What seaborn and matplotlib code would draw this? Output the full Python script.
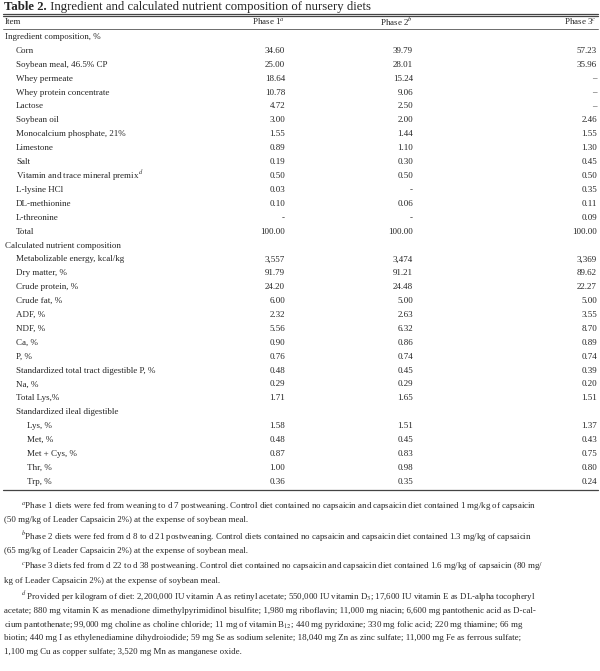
import matplotlib
matplotlib.use("Agg")
import matplotlib.pyplot as plt
import seaborn as sns

sns.set_theme(style="white")
plt.rcParams["font.family"] = "Liberation Serif"
plt.rcParams["mathtext.fontset"] = "stix"

title_bold = "Table 2."
title_rest = " Ingredient and calculated nutrient composition of nursery diets"
headers = ["Phase 1", "Phase 2", "Phase 3"]
header_sup = ["a", "b", "c"]

items = ["Ingredient composition, %", "Corn", "Soybean meal, 46.5% CP", "Whey permeate",
         "Whey protein concentrate", "Lactose", "Soybean oil", "Monocalcium phosphate, 21%",
         "Limestone", "Salt", "Vitamin and trace mineral premix", "L-lysine HCl", "DL-methionine",
         "L-threonine", "Total", "Calculated nutrient composition", "Metabolizable energy, kcal/kg",
         "Dry matter, %", "Crude protein, %", "Crude fat, %", "ADF, %", "NDF, %", "Ca, %", "P, %",
         "Standardized total tract digestible P, %", "Na, %", "Total Lys,%",
         "Standardized ileal digestible", "Lys, %", "Met, %", "Met + Cys, %", "Thr, %", "Trp, %"]
indent = [0, 1, 1, 1, 1, 1, 1, 1, 1, 1, 1, 1, 1, 1, 1, 0, 1, 1, 1, 1, 1, 1, 1, 1, 1, 1, 1, 1, 2, 2, 2, 2, 2]
phase1 = ["", "34.60", "25.00", "18.64", "10.78", "4.72", "3.00", "1.55", "0.89", "0.19", "0.50", "0.03",
          "0.10", "-", "100.00", "", "3,557", "91.79", "24.20", "6.00", "2.32", "5.56", "0.90", "0.76",
          "0.48", "0.29", "1.71", "", "1.58", "0.48", "0.87", "1.00", "0.36"]
phase2 = ["", "39.79", "28.01", "15.24", "9.06", "2.50", "2.00", "1.44", "1.10", "0.30", "0.50", "-",
          "0.06", "-", "100.00", "", "3,474", "91.21", "24.48", "5.00", "2.63", "6.32", "0.86", "0.74",
          "0.45", "0.29", "1.65", "", "1.51", "0.45", "0.83", "0.98", "0.35"]
phase3 = ["", "57.23", "35.96", "\u2013", "\u2013", "\u2013", "2.46", "1.55", "1.30", "0.45", "0.50", "0.35",
          "0.11", "0.09", "100.00", "", "3,369", "89.62", "22.27", "5.00", "3.55", "8.70", "0.89", "0.74",
          "0.39", "0.20", "1.51", "", "1.37", "0.43", "0.75", "0.80", "0.24"]

footnotes = [
    ["$^{a}$Phase 1 diets were fed from weaning to d 7 postweaning. Control diet contained no capsaicin and capsaicin diet contained 1 mg/kg of capsaicin",
     "(50 mg/kg of Leader Capsaicin 2%) at the expense of soybean meal."],
    ["$^{b}$Phase 2 diets were fed from d 8 to d 21 postweaning. Control diets contained no capsaicin and capsaicin diet contained 1.3 mg/kg of capsaicin",
     "(65 mg/kg of Leader Capsaicin 2%) at the expense of soybean meal."],
    ["$^{c}$Phase 3 diets fed from d 22 to d 38 postweaning. Control diet contained no capsaicin and capsaicin diet contained 1.6 mg/kg of capsaicin (80 mg/",
     "kg of Leader Capsaicin 2%) at the expense of soybean meal."],
    ["$^{d}$ Provided per kilogram of diet: 2,200,000 IU vitamin A as retinyl acetate; 550,000 IU vitamin D$_3$; 17,600 IU vitamin E as DL-alpha tocopheryl",
     "acetate; 880 mg vitamin K as menadione dimethylpyrimidinol bisulfite; 1,980 mg riboflavin; 11,000 mg niacin; 6,600 mg pantothenic acid as D-cal-",
     "cium pantothenate; 99,000 mg choline as choline chloride; 11 mg of vitamin B$_{12}$; 440 mg pyridoxine; 330 mg folic acid; 220 mg thiamine; 66 mg",
     "biotin; 440 mg I as ethylenediamine dihydroiodide; 59 mg Se as sodium selenite; 18,040 mg Zn as zinc sulfate; 11,000 mg Fe as ferrous sulfate;",
     "1,100 mg Cu as copper sulfate; 3,520 mg Mn as manganese oxide."],
]

fig = plt.figure(figsize=(6, 6.71), dpi=100)
ax = fig.add_axes([0, 0, 1, 1])
ax.set_xlim(0, 600)
ax.set_ylim(671, 0)
ax.axis("off")

fs = 6.5
col_x = [285, 413, 597]

t = ax.text(4, 7, title_bold, fontsize=9.2, fontweight="bold", va="center", ha="left")
fig.canvas.draw()
bb = t.get_window_extent().transformed(ax.transData.inverted())
ax.text(bb.x1, 7, title_rest, fontsize=9.2, va="center", ha="left")

ax.plot([3, 598], [13.5, 13.5], color="#444", lw=0.9)
ax.plot([3, 598], [16, 16], color="#444", lw=0.9)
ax.text(5, 21.5, "Item", fontsize=fs, va="center")
for x, h, s in zip(col_x, headers, header_sup):
    ax.text(x, 21.5, h + "$^{" + s + "}$", fontsize=fs, va="center", ha="right")
ax.plot([3, 598], [28.5, 28.5], color="#555", lw=0.6)

y0, dy = 37, 13.9
for i, lab in enumerate(items):
    y = y0 + i * dy
    x = 5 + indent[i] * 11
    txt = lab + ("$^{d}$" if lab.startswith("Vitamin and") else "")
    ax.text(x, y, txt, fontsize=fs, va="center", ha="left")
    for cx, v in zip(col_x, [phase1[i], phase2[i], phase3[i]]):
        if v:
            ax.text(cx, y, v, fontsize=fs, va="center", ha="right")

yb = y0 + (len(items) - 1) * dy + 8
ax.plot([3, 598], [yb, yb], color="#444", lw=0.9)

fy = yb + 17
for block in footnotes:
    for j, line in enumerate(block):
        ax.text(21 if j == 0 else 4, fy, line, fontsize=fs - 0.1, va="center", ha="left")
        fy += 13.6
    fy += 3

fig.savefig("out.png", dpi=100, facecolor="white")
